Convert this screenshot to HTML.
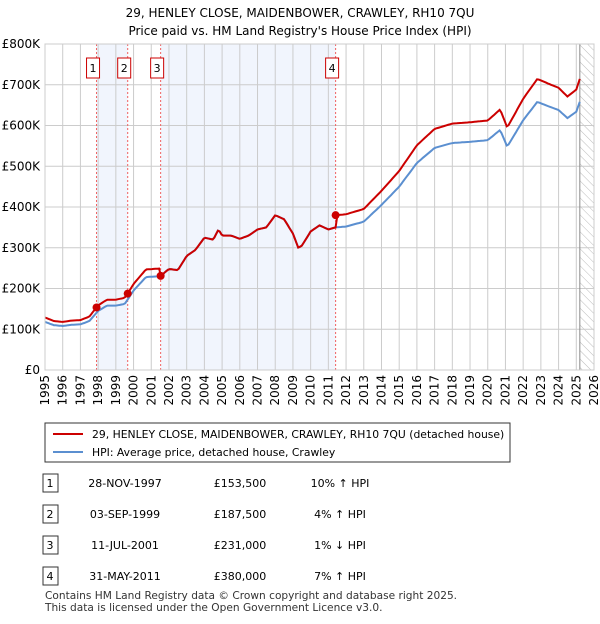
<!DOCTYPE html>
<html><head><meta charset="utf-8"><style>
body{margin:0;background:#fff;font-family:"DejaVu Sans","Liberation Sans",sans-serif;}
svg text{font-family:"DejaVu Sans","Liberation Sans",sans-serif;}
</style></head><body>
<svg id="chart" width="600" height="620">
<defs><pattern id="hatch" width="6" height="6" patternUnits="userSpaceOnUse" patternTransform="rotate(-45)"><line x1="0" y1="0" x2="0" y2="6" stroke="#bbb" stroke-width="1"/></pattern></defs>
<text x="300" y="17" text-anchor="middle" font-size="12">29, HENLEY CLOSE, MAIDENBOWER, CRAWLEY, RH10 7QU</text>
<text x="300" y="35" text-anchor="middle" font-size="12">Price paid vs. HM Land Registry's House Price Index (HPI)</text>
<g id="plot"></g>
<g>
<rect x="45" y="423" width="465" height="39" fill="#fff" stroke="#333"/>
<line x1="53" y1="434" x2="83" y2="434" stroke="#cc0000" stroke-width="2"/>
<text x="92" y="438" font-size="10.8">29, HENLEY CLOSE, MAIDENBOWER, CRAWLEY, RH10 7QU (detached house)</text>
<line x1="53" y1="452" x2="83" y2="452" stroke="#5b8fd0" stroke-width="2"/>
<text x="92" y="456" font-size="10.8">HPI: Average price, detached house, Crawley</text>
</g>
<g id="table" font-size="11"></g>
<text x="45" y="599" font-size="10.6" fill="#333">Contains HM Land Registry data © Crown copyright and database right 2025.</text>
<text x="45" y="611" font-size="10.6" fill="#333">This data is licensed under the Open Government Licence v3.0.</text>
</svg>
<script>
const hpiYears=[1995,1995.5,1996,1996.5,1997,1997.5,1998,1998.5,1999,1999.5,2000,2000.7,2001.5,2002,2002.5,2003,2003.5,2004,2004.5,2004.8,2005,2005.5,2006,2006.5,2007,2007.5,2008,2008.5,2009,2009.3,2009.5,2010,2010.5,2011,2011.4,2012,2013,2014,2015,2016,2017,2018,2019,2020,2020.7,2021.1,2022,2022.8,2023.5,2024,2024.5,2025,2025.2];
const hpiValues=[118,110,108,111,112,120,145,158,158,162,195,228,230,248,245,280,295,325,320,345,330,330,322,330,345,350,380,370,335,300,305,340,355,345,350,352,364,405,450,508,545,557,560,564,589,548,613,658,646,638,618,634,658];
const saleDates=[1997.91,1999.67,2001.53,2011.41];
const salePrices=[153500,187500,231000,380000];
const saleLabels=["28-NOV-1997","03-SEP-1999","11-JUL-2001","31-MAY-2011"];
const saleHpi=["10% ↑ HPI","4% ↑ HPI","1% ↓ HPI","7% ↑ HPI"];
const yTicks=[0,100,200,300,400,500,600,700,800];
const yTickLabels=["£0","£100K","£200K","£300K","£400K","£500K","£600K","£700K","£800K"];

const X0=45,X1=594,Y0=370,Y1=44;
const xs=y=>X0+(y-1995)*(X1-X0)/31;
const ys=v=>Y0-v*(Y0-Y1)/800;
const NS="http://www.w3.org/2000/svg";
const plot=document.getElementById('plot');
function mk(tag,attrs,parent){const e=document.createElementNS(NS,tag);for(const k in attrs)e.setAttribute(k,attrs[k]);(parent||plot).appendChild(e);return e;}
function hpiAt(t){for(let i=0;i<hpiYears.length-1;i++){if(t<=hpiYears[i+1]){const f=(t-hpiYears[i])/(hpiYears[i+1]-hpiYears[i]);return hpiValues[i]+f*(hpiValues[i+1]-hpiValues[i]);}}return hpiValues[hpiValues.length-1];}

for(const [a,b] of [[0,1],[2,3]]){
 const r=mk('rect',{x:xs(saleDates[a]),y:Y1,width:xs(saleDates[b])-xs(saleDates[a]),height:Y0-Y1,fill:'#eef3fc',opacity:0.8});
 
 
}
const hz=mk('rect',{x:xs(2025.2),y:Y1,width:X1-xs(2025.2),height:Y0-Y1,fill:'url(#hatch)'});


for(let yr=1995;yr<=2026;yr++){
 const l=mk('line',{x1:xs(yr),x2:xs(yr),y1:Y1,y2:Y0,stroke:'#cccccc'});
 
 
 const t=mk('text',{x:0,y:0,transform:`translate(${xs(yr)+4},${Y0+5}) rotate(-90)`,'text-anchor':'end','font-size':12});
 t.textContent=yr;
 
 
}
yTicks.forEach((v,i)=>{
 const l=mk('line',{x1:X0,x2:X1,y1:ys(v),y2:ys(v),stroke:'#cccccc'});
 
 
 const t=mk('text',{x:40,y:ys(v)+4,'text-anchor':'end','font-size':12});
 t.textContent=yTickLabels[i];
 
 
});
const vl=mk('line',{x1:xs(2025.2),x2:xs(2025.2),y1:Y1,y2:Y0,stroke:'#888'});


saleDates.forEach((d,i)=>{
 const l=mk('line',{x1:xs(d),x2:xs(d),y1:Y1,y2:Y0,stroke:'#f06060','stroke-dasharray':'2,2'});
 
 
 const bx=mk('rect',{x:xs(d)-10,y:58,width:13,height:20,fill:'#fff',stroke:'#cc0000'});
 
 
 const t=mk('text',{x:xs(d)-3.5,y:72,'text-anchor':'middle','font-size':11});
 t.textContent=i+1;
 
 
});
let pb='',pr='';
const N=300;
for(let k=0;k<=N;k++){
 const t=1995+k*(2025.2-1995)/N;
 const h=hpiAt(t);
 let si=0;for(let j=0;j<saleDates.length;j++)if(t>=saleDates[j])si=j;
 const r=h*(salePrices[si]/1000)/hpiAt(saleDates[si]);
 pb+=(k?'L':'M')+xs(t).toFixed(1)+','+ys(h).toFixed(1);
 pr+=(k?'L':'M')+xs(t).toFixed(1)+','+ys(r).toFixed(1);
}
const lb=mk('path',{d:pb,fill:'none',stroke:'#5b8fd0','stroke-width':2});


const lr=mk('path',{d:pr,fill:'none',stroke:'#cc0000','stroke-width':2});


saleDates.forEach((d,i)=>{
 const c=mk('circle',{cx:xs(d),cy:ys(salePrices[i]/1000),r:4,fill:'#cc0000'});
 
 
});
const bd=mk('rect',{x:X0,y:Y1,width:X1-X0,height:Y0-Y1,fill:'none',stroke:'#cccccc'});


const tb=document.getElementById('table');
saleDates.forEach((d,i)=>{
 const y=483+i*31;
 const b=mk('rect',{x:43,y:y-9,width:15,height:18,fill:'#fff',stroke:'#333'},tb);
 
 
 const cells=[[50,'middle',String(i+1)],[125,'middle',saleLabels[i]],[240,'middle','£'+salePrices[i].toLocaleString('en-GB')],[340,'middle',saleHpi[i]]];
 cells.forEach(c=>{
  const t=mk('text',{x:c[0],y:y+4,'text-anchor':c[1]},tb);
  t.textContent=c[2];
  
  
 });
});
</script>
</body></html>
